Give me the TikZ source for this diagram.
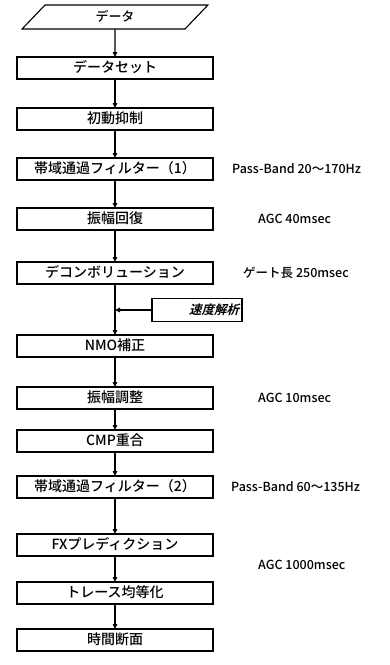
\documentclass[tikz,border=0pt]{standalone}
\usepackage{fontspec}
\setmainfont{Noto Sans CJK JP}[BoldFont={Noto Sans CJK JP Medium}]
\newfontfamily\velfont[FakeSlant=0.25]{Noto Sans CJK JP Bold}
\usepackage{tikz}
\usetikzlibrary{arrows.meta, positioning, shapes.geometric}

\begin{document}
\begin{tikzpicture}[
  x=1pt, y=-1pt,
  box/.style={draw, line width=1.1pt, outer sep=0pt, minimum width=196pt, minimum height=22pt, inner sep=0pt, text height=10pt, text depth=2pt, font=\fontsize{14}{16}\selectfont\bfseries},
  iobox/.style={draw, line width=1.1pt, outer sep=0pt, trapezium, trapezium left angle=62, trapezium right angle=118, trapezium stretches=true, minimum width=186pt, minimum height=24pt, inner sep=0pt, text height=10pt, text depth=2pt, font=\fontsize{13}{15}\selectfont\bfseries},
  note/.style={font=\fontsize{12.5}{14}\selectfont\bfseries, anchor=west, inner sep=0pt},
  arrow/.style={-{Triangle[length=5pt, width=4.5pt]}, line width=1.1pt},
]
\useasboundingbox (0,0) rectangle (390,665);

% Input data
\node[iobox] (data) at (115,17) {データ};

% Processing steps
\node[box, below=28pt of data] (dataset) {データセット};
\node[box, below=29pt of dataset] (mute) {初動抑制};
\node[box, below=28pt of mute] (bpfa) {帯域通過フィルター（1）};
\node[box, below=28pt of bpfa] (amprec) {振幅回復};
\node[box, below=32pt of amprec] (decon) {デコンボリューション};
\node[box, below=51pt of decon] (nmo) {NMO補正};
\node[box, below=30pt of nmo] (ampadj) {振幅調整};
\node[box, below=21pt of ampadj] (stack) {CMP重合};
\node[box, below=24pt of stack] (bpfb) {帯域通過フィルター（2）};
\node[box, below=36pt of bpfb] (fxdecon) {FXプレディクション};
\node[box, below=26pt of fxdecon] (traceeq) {トレース均等化};
\node[box, below=25pt of traceeq] (section) {時間断面};

% Velocity analysis
\node[draw, line width=1.1pt, outer sep=0pt, minimum width=90pt, minimum height=23pt, inner sep=0pt, text width=84pt, align=right, font=\fontsize{12.5}{14}\selectfont] (velan) at (197,310) {\velfont 速度解析};
\coordinate (join) at (decon.south |- velan.west);

% Arrows
\draw[arrow] (data) -- (dataset);
\draw[arrow] (dataset) -- (mute);
\draw[arrow] (mute) -- (bpfa);
\draw[arrow] (bpfa) -- (amprec);
\draw[arrow] (amprec) -- (decon);
\draw[arrow] (decon) -- (nmo);
\draw[arrow] (velan) -- (join);
\draw[arrow] (nmo) -- (ampadj);
\draw[arrow] (ampadj) -- (stack);
\draw[arrow] (stack) -- (bpfb);
\draw[arrow] (bpfb) -- (fxdecon);
\draw[arrow] (fxdecon) -- (traceeq);
\draw[arrow] (traceeq) -- (section);

% Parameters
\node[note, right=19pt of bpfa] (pbanda) {Pass-Band 20〜170Hz};
\node[note, right=45pt of amprec] (agca) {AGC 40msec};
\node[note, right=30pt of decon] (gate) {ゲート長 250msec};
\node[note, right=45pt of ampadj] (agcb) {AGC 10msec};
\node[note, right=18pt of bpfb] (pbandb) {Pass-Band 60〜135Hz};
\node[note, right=45pt of fxdecon, yshift=-20pt] (agcc) {AGC 1000msec};

\end{tikzpicture}
\end{document}
